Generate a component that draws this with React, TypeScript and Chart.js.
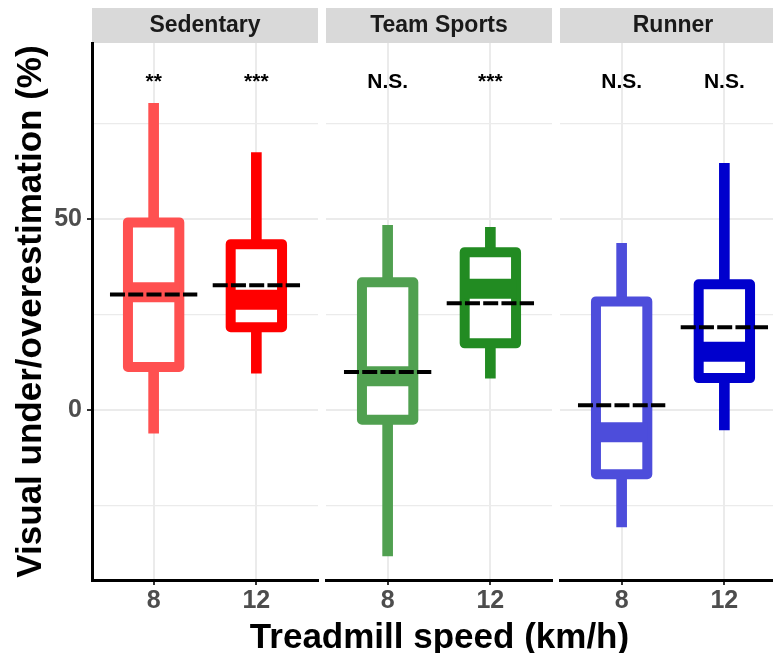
import React, { useEffect, useRef } from 'react';
import { Chart, registerables } from 'chart.js';

Chart.register(...registerables);

// ---------- data ----------
const GROUPS = ['Sedentary', 'Team Sports', 'Runner'];
const SPEEDS = ['8', '12'];
const X_POS = [1, 2];

// per group: [8 km/h, 12 km/h]
const WHISKER_LOW = [[-6.0, 9.7], [-38.2, 8.4], [-30.6, -5.2]];
const Q1 = [[11.3, 21.7], [-2.5, 17.5], [-16.8, 8.4]];
const MEDIAN = [[30.9, 28.9], [8.9, 31.8], [-5.8, 15.3]];
const Q3 = [[49.2, 43.5], [33.5, 41.4], [28.5, 33.0]];
const WHISKER_HIGH = [[80.4, 67.5], [48.4, 47.9], [43.7, 64.7]];
const MEAN = [[30.3, 32.7], [10.0, 28.0], [1.3, 21.7]];
const SIGNIF = [['**', '***'], ['N.S.', '***'], ['N.S.', 'N.S.']];

const COLORS = [['#FF5050', '#FF0000'], ['#50A050', '#228B22'], ['#4D4DDB', '#0000CD']];

const Y_GRID = [-25, 0, 25, 50, 75];
const Y_LABELED = [0, 50];
const Y_MIN = -44.5;
const Y_MAX = 96.2;
const X_MIN = 0.4;
const X_MAX = 2.6;
const ANNOT_Y = 84.5;
const BOX_HALF = 0.25;
const MEAN_HALF = 0.425;

const Y_TITLE = 'Visual under/overestimation (%)';
const X_TITLE = 'Treadmill speed (km/h)';

const FONT = "'Liberation Sans', Arial, Helvetica, sans-serif";

type PanelProps = { index: number; left: number; width: number; showY: boolean };

function Panel({ index, left, width, showY }: PanelProps) {
  const ref = useRef<HTMLCanvasElement | null>(null);

  useEffect(() => {
    const canvas = ref.current;
    if (!canvas) return;

    const boxPlugin = {
      id: 'boxesAndStrip',
      beforeDraw(chart: any) {
        const { ctx, chartArea } = chart;
        ctx.save();
        ctx.fillStyle = '#D9D9D9';
        ctx.fillRect(chartArea.left, 8, chartArea.right - chartArea.left, 35);
        ctx.fillStyle = '#1A1A1A';
        ctx.font = `bold 23px ${FONT}`;
        ctx.textAlign = 'center';
        ctx.textBaseline = 'middle';
        ctx.fillText(GROUPS[index], (chartArea.left + chartArea.right) / 2, 25.5);
        ctx.restore();
      },
      afterDatasetsDraw(chart: any) {
        const { ctx } = chart;
        const xs = chart.scales.x;
        const ys = chart.scales.y;
        const hw = xs.getPixelForValue(1 + BOX_HALF) - xs.getPixelForValue(1);
        const mw = xs.getPixelForValue(1 + MEAN_HALF) - xs.getPixelForValue(1);
        X_POS.forEach((xv, j) => {
          const x = xs.getPixelForValue(xv);
          const y1 = ys.getPixelForValue(Q1[index][j]);
          const y3 = ys.getPixelForValue(Q3[index][j]);
          const ym = ys.getPixelForValue(MEDIAN[index][j]);
          const ymean = ys.getPixelForValue(MEAN[index][j]);
          const color = COLORS[index][j];
          ctx.save();
          // box
          ctx.fillStyle = '#FFFFFF';
          ctx.strokeStyle = color;
          ctx.lineWidth = 10;
          ctx.lineJoin = 'round';
          ctx.beginPath();
          ctx.rect(x - hw, y3, 2 * hw, y1 - y3);
          ctx.fill();
          ctx.stroke();
          // median
          ctx.lineWidth = 20;
          ctx.lineCap = 'butt';
          ctx.beginPath();
          ctx.moveTo(x - hw, ym);
          ctx.lineTo(x + hw, ym);
          ctx.stroke();
          // mean (dashed)
          ctx.strokeStyle = '#000000';
          ctx.lineWidth = 4;
          ctx.setLineDash([15, 3.25]);
          ctx.beginPath();
          ctx.moveTo(x - mw, ymean);
          ctx.lineTo(x + mw, ymean);
          ctx.stroke();
          ctx.setLineDash([]);
          // significance label
          ctx.fillStyle = '#000000';
          ctx.font = `bold 21px ${FONT}`;
          ctx.textAlign = 'center';
          ctx.textBaseline = 'alphabetic';
          ctx.fillText(SIGNIF[index][j], x, ys.getPixelForValue(ANNOT_Y));
          ctx.restore();
        });
      },
    };

    const chart = new Chart(canvas, {
      type: 'bar',
      data: {
        datasets: [
          {
            label: GROUPS[index],
            data: X_POS.map((x, j) => ({ x, y: [WHISKER_LOW[index][j], WHISKER_HIGH[index][j]] })) as any,
            backgroundColor: COLORS[index],
            borderWidth: 0,
            barThickness: 10,
            grouped: false,
          } as any,
        ],
      },
      options: {
        responsive: false,
        animation: false,
        events: [],
        layout: { padding: { top: 43, left: showY ? 0 : 4, right: 4, bottom: 0 } },
        plugins: { legend: { display: false }, tooltip: { enabled: false } },
        scales: {
          x: {
            type: 'linear',
            min: X_MIN,
            max: X_MAX,
            offset: false,
            afterBuildTicks: (axis: any) => {
              axis.ticks = X_POS.map((v) => ({ value: v }));
            },
            afterFit: (s: any) => {
              s.height = 73;
            },
            ticks: {
              autoSkip: false,
              maxRotation: 0,
              padding: 1,
              color: '#4D4D4D',
              font: { family: FONT, size: 25, weight: 'bold' },
              callback: (v: any) => {
                const k = X_POS.indexOf(Number(v));
                return k >= 0 ? SPEEDS[k] : '';
              },
            },
            grid: {
              offset: false,
              color: '#EBEBEB',
              lineWidth: 2,
              tickColor: '#333333',
              tickLength: 5,
              tickWidth: 2,
            },
            border: { display: true, color: '#000000', width: 3 },
          } as any,
          y: {
            type: 'linear',
            min: Y_MIN,
            max: Y_MAX,
            afterBuildTicks: (axis: any) => {
              axis.ticks = Y_GRID.map((v) => ({ value: v }));
            },
            afterFit: (s: any) => {
              s.width = showY ? 92 : 0;
            },
            ticks: {
              display: showY,
              autoSkip: false,
              padding: 5,
              color: '#4D4D4D',
              font: { family: FONT, size: 25, weight: 'bold' },
              callback: (v: any) => (Y_LABELED.includes(Number(v)) ? String(v) : ''),
            },
            grid: {
              color: '#EBEBEB',
              lineWidth: (c: any) => (Y_LABELED.includes(c.tick?.value) ? 2 : 1.3),
              tickColor: (c: any) => (Y_LABELED.includes(c.tick?.value) ? '#333333' : 'rgba(0,0,0,0)'),
              tickLength: 5,
              tickWidth: 2,
              drawTicks: showY,
            },
            border: { display: showY, color: '#000000', width: 3 },
            title: {
              display: showY,
              text: Y_TITLE,
              color: '#000000',
              font: { family: FONT, size: 35, weight: 'bold' },
              padding: { top: 10, bottom: 0 },
            },
          } as any,
        },
      },
      plugins: [boxPlugin],
    });

    return () => chart.destroy();
  }, [index, showY]);

  return (
    <canvas
      ref={ref}
      width={width}
      height={653}
      style={{ position: 'absolute', left, top: 0, width, height: 653 }}
    />
  );
}

export default function App() {
  return (
    <div
      style={{
        position: 'fixed',
        left: 0,
        top: 0,
        width: 773,
        height: 653,
        overflow: 'hidden',
        background: '#FFFFFF',
      }}
    >
      <Panel index={0} left={0} width={322} showY={true} />
      <Panel index={1} left={322} width={234} showY={false} />
      <Panel index={2} left={556} width={234} showY={false} />
      <div
        style={{
          position: 'absolute',
          left: 439.5,
          top: 617.5,
          transform: 'translateX(-50%)',
          whiteSpace: 'nowrap',
          fontFamily: FONT,
          fontWeight: 'bold',
          fontSize: 35,
          lineHeight: '35px',
          color: '#000000',
        }}
      >
        {X_TITLE}
      </div>
    </div>
  );
}
